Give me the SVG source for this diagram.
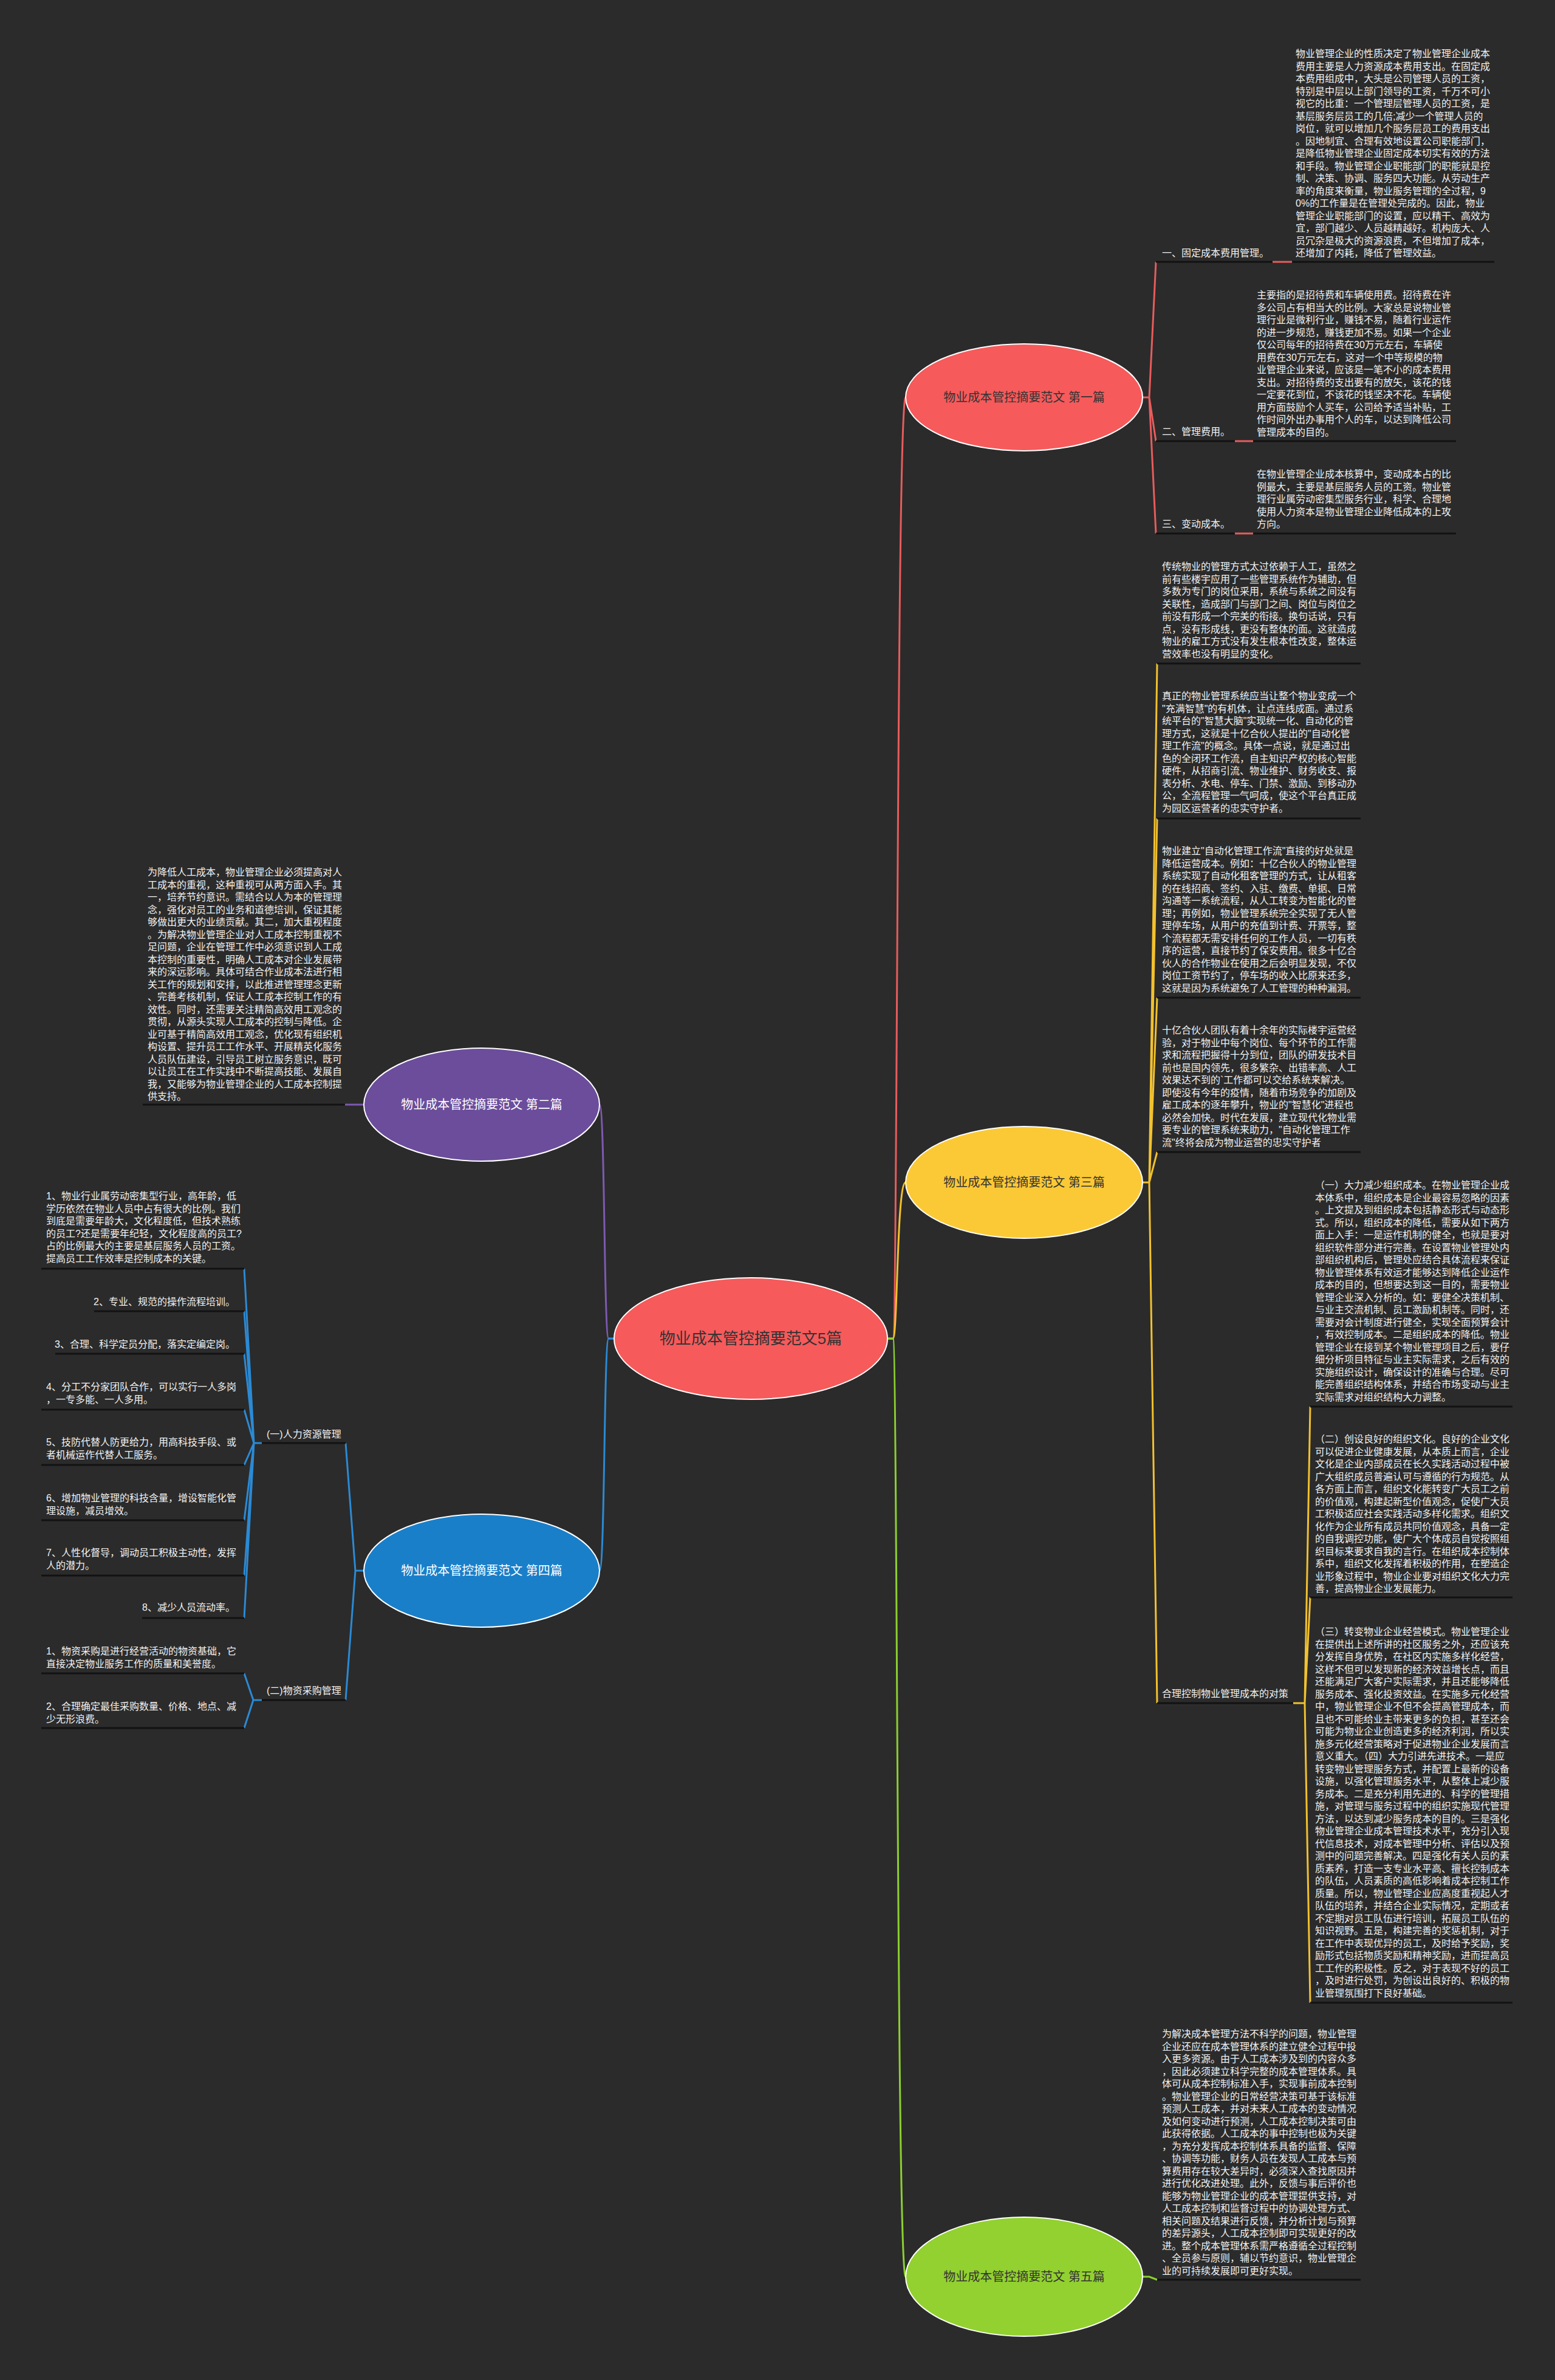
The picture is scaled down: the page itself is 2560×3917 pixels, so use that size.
<svg xmlns="http://www.w3.org/2000/svg" width="2560" height="3917" viewBox="0 0 2560 3917">
<style>
.t{font-family:"Liberation Sans","Noto Sans CJK SC",sans-serif;font-size:16px;fill:#f2f2f2}
.e{text-anchor:end}
.n{font-family:"Liberation Sans","Noto Sans CJK SC",sans-serif;font-size:20px;text-anchor:middle}
.ul{stroke:#121212;stroke-width:3;fill:none}
.cr{stroke:#e85c5c;stroke-width:3;fill:none}
.cy{stroke:#f2c12e;stroke-width:3;fill:none}
.cg{stroke:#8ccf2f;stroke-width:3;fill:none}
.cp{stroke:#7d5ab0;stroke-width:3;fill:none}
.cb{stroke:#2b8ad4;stroke-width:3;fill:none}
.el{stroke:#ffffff;stroke-width:2}
</style>
<rect width="2560" height="3917" fill="#2b2b2b"/>

<g id="connectors">
<path class="cr" d="M1461,2203 L1470,2203 C1478,2203 1476,654 1491,654"/>
<path class="cy" d="M1461,2203 L1470,2203 C1478,2203 1476,1946 1491,1946"/>
<path class="cg" d="M1461,2203 L1470,2203 C1478,2203 1476,3747 1491,3747"/>
<path class="cp" d="M1011,2203 L1002,2203 C994,2203 996,1818 987,1818"/>
<path class="cb" d="M1011,2203 L1002,2203 C994,2203 996,2585 987,2585"/>
<path class="cr" d="M1881,654 L1892,654 L1903,431 M1892,654 L1903,726 M1892,654 L1903,878"/>
<path class="cr" d="M2095,431 H2127 M2033,726 H2063 M2033,878 H2063"/>
<path class="cy" d="M1881,1946 L1892,1946 L1905,1092 M1892,1946 L1905,1347 M1892,1946 L1905,1642 M1892,1946 L1905,1896 M1892,1946 L1905,2803"/>
<path class="cy" d="M2129,2803 H2148 L2157,2315 M2148,2803 L2157,2629 M2148,2803 L2157,3296"/>
<path class="cg" d="M1881,3747 L1892,3747 L1905,3752"/>
<path class="cp" d="M600,1818 H568"/>
<path class="cb" d="M600,2585 H585 L569,2375 M585,2585 L569,2798"/>
<path class="cb" d="M431,2375 H418 L402,2088 M418,2375 L402,2158 M418,2375 L402,2228 M418,2375 L402,2320 M418,2375 L402,2411 M418,2375 L402,2502 M418,2375 L402,2593 M418,2375 L402,2663"/>
<path class="cb" d="M431,2798 H417 L402,2754 M417,2798 L402,2844"/>
</g>

<g id="center">
<ellipse class="el" cx="1236" cy="2203" rx="225" ry="100" fill="#f65a5b"/>
<text class="n" x="1236" y="2212" style="font-size:26px" fill="#333333">物业成本管控摘要范文5篇</text>
</g>

<g id="node-p1">
<ellipse class="el" cx="1686" cy="654" rx="195" ry="88" fill="#f65a5b"/>
<text class="n" x="1686" y="661" fill="#333333">物业成本管控摘要范文 第一篇</text>
</g>
<g id="node-p3">
<ellipse class="el" cx="1686" cy="1946" rx="195" ry="92" fill="#fbc935"/>
<text class="n" x="1686" y="1953" fill="#333333">物业成本管控摘要范文 第三篇</text>
</g>
<g id="node-p5">
<ellipse class="el" cx="1686" cy="3747" rx="195" ry="98" fill="#92d12f"/>
<text class="n" x="1686" y="3754" fill="#333333">物业成本管控摘要范文 第五篇</text>
</g>
<g id="node-p2">
<ellipse class="el" cx="793" cy="1818" rx="194" ry="93" fill="#6b4d9c"/>
<text class="n" x="793" y="1825" fill="#ffffff">物业成本管控摘要范文 第二篇</text>
</g>
<g id="node-p4">
<ellipse class="el" cx="793" cy="2585" rx="194" ry="93" fill="#1a7fc9"/>
<text class="n" x="793" y="2592" fill="#ffffff">物业成本管控摘要范文 第四篇</text>
</g>

<g id="p1-label1">
<line class="ul" x1="1903" y1="431" x2="2095" y2="431"/>
<text class="t" x="1913" y="422">一、固定成本费用管理。</text>
</g>
<g id="p1-text1">
<line class="ul" x1="2127" y1="431" x2="2460" y2="431"/>
<text class="t" x="2133" y="94"><tspan x="2133">物业管理企业的性质决定了物业管理企业成本</tspan><tspan x="2133" dy="20.5">费用主要是人力资源成本费用支出。在固定成</tspan><tspan x="2133" dy="20.5">本费用组成中，大头是公司管理人员的工资，</tspan><tspan x="2133" dy="20.5">特别是中层以上部门领导的工资，千万不可小</tspan><tspan x="2133" dy="20.5">视它的比重：一个管理层管理人员的工资，是</tspan><tspan x="2133" dy="20.5">基层服务层员工的几倍;减少一个管理人员的</tspan><tspan x="2133" dy="20.5">岗位，就可以增加几个服务层员工的费用支出</tspan><tspan x="2133" dy="20.5">。因地制宜、合理有效地设置公司职能部门，</tspan><tspan x="2133" dy="20.5">是降低物业管理企业固定成本切实有效的方法</tspan><tspan x="2133" dy="20.5">和手段。物业管理企业职能部门的职能就是控</tspan><tspan x="2133" dy="20.5">制、决策、协调、服务四大功能。从劳动生产</tspan><tspan x="2133" dy="20.5">率的角度来衡量，物业服务管理的全过程，9</tspan><tspan x="2133" dy="20.5">0%的工作量是在管理处完成的。因此，物业</tspan><tspan x="2133" dy="20.5">管理企业职能部门的设置，应以精干、高效为</tspan><tspan x="2133" dy="20.5">宜，部门越少、人员越精越好。机构庞大、人</tspan><tspan x="2133" dy="20.5">员冗杂是极大的资源浪费，不但增加了成本，</tspan><tspan x="2133" dy="20.5">还增加了内耗，降低了管理效益。</tspan></text>
</g>
<g id="p1-label2">
<line class="ul" x1="1903" y1="726" x2="2033" y2="726"/>
<text class="t" x="1913" y="716">二、管理费用。</text>
</g>
<g id="p1-text2">
<line class="ul" x1="2063" y1="726" x2="2397" y2="726"/>
<text class="t" x="2069" y="491"><tspan x="2069">主要指的是招待费和车辆使用费。招待费在许</tspan><tspan x="2069" dy="20.5">多公司占有相当大的比例。大家总是说物业管</tspan><tspan x="2069" dy="20.5">理行业是微利行业，赚钱不易，随着行业运作</tspan><tspan x="2069" dy="20.5">的进一步规范，赚钱更加不易。如果一个企业</tspan><tspan x="2069" dy="20.5">仅公司每年的招待费在30万元左右，车辆使</tspan><tspan x="2069" dy="20.5">用费在30万元左右，这对一个中等规模的物</tspan><tspan x="2069" dy="20.5">业管理企业来说，应该是一笔不小的成本费用</tspan><tspan x="2069" dy="20.5">支出。对招待费的支出要有的放矢，该花的钱</tspan><tspan x="2069" dy="20.5">一定要花到位，不该花的钱坚决不花。车辆使</tspan><tspan x="2069" dy="20.5">用方面鼓励个人买车，公司给予适当补贴，工</tspan><tspan x="2069" dy="20.5">作时间外出办事用个人的车，以达到降低公司</tspan><tspan x="2069" dy="20.5">管理成本的目的。</tspan></text>
</g>
<g id="p1-label3">
<line class="ul" x1="1903" y1="878" x2="2033" y2="878"/>
<text class="t" x="1913" y="868">三、变动成本。</text>
</g>
<g id="p1-text3">
<line class="ul" x1="2063" y1="878" x2="2397" y2="878"/>
<text class="t" x="2069" y="786"><tspan x="2069">在物业管理企业成本核算中，变动成本占的比</tspan><tspan x="2069" dy="20.5">例最大，主要是基层服务人员的工资。物业管</tspan><tspan x="2069" dy="20.5">理行业属劳动密集型服务行业，科学、合理地</tspan><tspan x="2069" dy="20.5">使用人力资本是物业管理企业降低成本的上攻</tspan><tspan x="2069" dy="20.5">方向。</tspan></text>
</g>

<g id="p3-textA">
<line class="ul" x1="1905" y1="1092" x2="2240" y2="1092"/>
<text class="t" x="1913" y="938"><tspan x="1913">传统物业的管理方式太过依赖于人工，虽然之</tspan><tspan x="1913" dy="20.5">前有些楼宇应用了一些管理系统作为辅助，但</tspan><tspan x="1913" dy="20.5">多数为专门的岗位采用，系统与系统之间没有</tspan><tspan x="1913" dy="20.5">关联性，造成部门与部门之间、岗位与岗位之</tspan><tspan x="1913" dy="20.5">前没有形成一个完美的衔接。换句话说，只有</tspan><tspan x="1913" dy="20.5">点，没有形成线，更没有整体的面。这就造成</tspan><tspan x="1913" dy="20.5">物业的雇工方式没有发生根本性改变，整体运</tspan><tspan x="1913" dy="20.5">营效率也没有明显的变化。</tspan></text>
</g>
<g id="p3-textB">
<line class="ul" x1="1905" y1="1347" x2="2240" y2="1347"/>
<text class="t" x="1913" y="1151"><tspan x="1913">真正的物业管理系统应当让整个物业变成一个</tspan><tspan x="1913" dy="20.5">"充满智慧"的有机体，让点连线成面。通过系</tspan><tspan x="1913" dy="20.5">统平台的"智慧大脑"实现统一化、自动化的管</tspan><tspan x="1913" dy="20.5">理方式，这就是十亿合伙人提出的"自动化管</tspan><tspan x="1913" dy="20.5">理工作流"的概念。具体一点说，就是通过出</tspan><tspan x="1913" dy="20.5">色的全闭环工作流，自主知识产权的核心智能</tspan><tspan x="1913" dy="20.5">硬件，从招商引流、物业维护、财务收支、报</tspan><tspan x="1913" dy="20.5">表分析、水电、停车、门禁、激励、到移动办</tspan><tspan x="1913" dy="20.5">公，全流程管理一气呵成，使这个平台真正成</tspan><tspan x="1913" dy="20.5">为园区运营者的忠实守护者。</tspan></text>
</g>
<g id="p3-textC">
<line class="ul" x1="1905" y1="1642" x2="2240" y2="1642"/>
<text class="t" x="1913" y="1406"><tspan x="1913">物业建立"自动化管理工作流"直接的好处就是</tspan><tspan x="1913" dy="20.5">降低运营成本。例如：十亿合伙人的物业管理</tspan><tspan x="1913" dy="20.5">系统实现了自动化租客管理的方式，让从租客</tspan><tspan x="1913" dy="20.5">的在线招商、签约、入驻、缴费、单据、日常</tspan><tspan x="1913" dy="20.5">沟通等一系统流程，从人工转变为智能化的管</tspan><tspan x="1913" dy="20.5">理；再例如，物业管理系统完全实现了无人管</tspan><tspan x="1913" dy="20.5">理停车场，从用户的充值到计费、开票等，整</tspan><tspan x="1913" dy="20.5">个流程都无需安排任何的工作人员，一切有秩</tspan><tspan x="1913" dy="20.5">序的运营，直接节约了保安费用。很多十亿合</tspan><tspan x="1913" dy="20.5">伙人的合作物业在使用之后会明显发现，不仅</tspan><tspan x="1913" dy="20.5">岗位工资节约了，停车场的收入比原来还多，</tspan><tspan x="1913" dy="20.5">这就是因为系统避免了人工管理的种种漏洞。</tspan></text>
</g>
<g id="p3-textD">
<line class="ul" x1="1905" y1="1896" x2="2240" y2="1896"/>
<text class="t" x="1913" y="1701"><tspan x="1913">十亿合伙人团队有着十余年的实际楼宇运营经</tspan><tspan x="1913" dy="20.5">验，对于物业中每个岗位、每个环节的工作需</tspan><tspan x="1913" dy="20.5">求和流程把握得十分到位，团队的研发技术目</tspan><tspan x="1913" dy="20.5">前也是国内领先，很多繁杂、出错率高、人工</tspan><tspan x="1913" dy="20.5">效果达不到的`工作都可以交给系统来解决。</tspan><tspan x="1913" dy="20.5">即使没有今年的疫情，随着市场竞争的加剧及</tspan><tspan x="1913" dy="20.5">雇工成本的逐年攀升，物业的"智慧化"进程也</tspan><tspan x="1913" dy="20.5">必然会加快。时代在发展，建立现代化物业需</tspan><tspan x="1913" dy="20.5">要专业的管理系统来助力，"自动化管理工作</tspan><tspan x="1913" dy="20.5">流"终将会成为物业运营的忠实守护者</tspan></text>
</g>
<g id="p3-label">
<line class="ul" x1="1905" y1="2803" x2="2129" y2="2803"/>
<text class="t" x="1913" y="2793">合理控制物业管理成本的对策</text>
</g>
<g id="p3-text1">
<line class="ul" x1="2157" y1="2315" x2="2490" y2="2315"/>
<text class="t" x="2165" y="1956"><tspan x="2165">（一）大力减少组织成本。在物业管理企业成</tspan><tspan x="2165" dy="20.5">本体系中，组织成本是企业最容易忽略的因素</tspan><tspan x="2165" dy="20.5">。上文提及到组织成本包括静态形式与动态形</tspan><tspan x="2165" dy="20.5">式。所以，组织成本的降低，需要从如下两方</tspan><tspan x="2165" dy="20.5">面上入手：一是运作机制的健全，也就是要对</tspan><tspan x="2165" dy="20.5">组织软件部分进行完善。在设置物业管理处内</tspan><tspan x="2165" dy="20.5">部组织机构后，管理处应结合具体流程来保证</tspan><tspan x="2165" dy="20.5">物业管理体系有效运才能够达到降低企业运作</tspan><tspan x="2165" dy="20.5">成本的目的，但想要达到这一目的，需要物业</tspan><tspan x="2165" dy="20.5">管理企业深入分析的。如：要健全决策机制、</tspan><tspan x="2165" dy="20.5">与业主交流机制、员工激励机制等。同时，还</tspan><tspan x="2165" dy="20.5">需要对会计制度进行健全，实现全面预算会计</tspan><tspan x="2165" dy="20.5">，有效控制成本。二是组织成本的降低。物业</tspan><tspan x="2165" dy="20.5">管理企业在接到某个物业管理项目之后，要仔</tspan><tspan x="2165" dy="20.5">细分析项目特征与业主实际需求，之后有效的</tspan><tspan x="2165" dy="20.5">实施组织设计，确保设计的准确与合理。尽可</tspan><tspan x="2165" dy="20.5">能完善组织结构体系，并结合市场变动与业主</tspan><tspan x="2165" dy="20.5">实际需求对组织结构大力调整。</tspan></text>
</g>
<g id="p3-text2">
<line class="ul" x1="2157" y1="2629" x2="2490" y2="2629"/>
<text class="t" x="2165" y="2374"><tspan x="2165">（二）创设良好的组织文化。良好的企业文化</tspan><tspan x="2165" dy="20.5">可以促进企业健康发展，从本质上而言，企业</tspan><tspan x="2165" dy="20.5">文化是企业内部成员在长久实践活动过程中被</tspan><tspan x="2165" dy="20.5">广大组织成员普遍认可与遵循的行为规范。从</tspan><tspan x="2165" dy="20.5">各方面上而言，组织文化能转变广大员工之前</tspan><tspan x="2165" dy="20.5">的价值观，构建起新型价值观念，促使广大员</tspan><tspan x="2165" dy="20.5">工积极适应社会实践活动多样化需求。组织文</tspan><tspan x="2165" dy="20.5">化作为企业所有成员共同价值观念，具备一定</tspan><tspan x="2165" dy="20.5">的自我调控功能，使广大个体成员自觉按照组</tspan><tspan x="2165" dy="20.5">织目标来要求自我的言行。在组织成本控制体</tspan><tspan x="2165" dy="20.5">系中，组织文化发挥着积极的作用，在塑造企</tspan><tspan x="2165" dy="20.5">业形象过程中，物业企业要对组织文化大力完</tspan><tspan x="2165" dy="20.5">善，提高物业企业发展能力。</tspan></text>
</g>
<g id="p3-text3">
<line class="ul" x1="2157" y1="3296" x2="2490" y2="3296"/>
<text class="t" x="2165" y="2691"><tspan x="2165">（三）转变物业企业经营模式。物业管理企业</tspan><tspan x="2165" dy="20.5">在提供出上述所讲的社区服务之外，还应该充</tspan><tspan x="2165" dy="20.5">分发挥自身优势，在社区内实施多样化经营，</tspan><tspan x="2165" dy="20.5">这样不但可以发现新的经济效益增长点，而且</tspan><tspan x="2165" dy="20.5">还能满足广大客户实际需求，并且还能够降低</tspan><tspan x="2165" dy="20.5">服务成本、强化投资效益。在实施多元化经营</tspan><tspan x="2165" dy="20.5">中，物业管理企业不但不会提高管理成本，而</tspan><tspan x="2165" dy="20.5">且也不可能给业主带来更多的负担，甚至还会</tspan><tspan x="2165" dy="20.5">可能为物业企业创造更多的经济利润，所以实</tspan><tspan x="2165" dy="20.5">施多元化经营策略对于促进物业企业发展而言</tspan><tspan x="2165" dy="20.5">意义重大。（四）大力引进先进技术。一是应</tspan><tspan x="2165" dy="20.5">转变物业管理服务方式，并配置上最新的设备</tspan><tspan x="2165" dy="20.5">设施，以强化管理服务水平，从整体上减少服</tspan><tspan x="2165" dy="20.5">务成本。二是充分利用先进的、科学的管理措</tspan><tspan x="2165" dy="20.5">施，对管理与服务过程中的组织实施现代管理</tspan><tspan x="2165" dy="20.5">方法，以达到减少服务成本的目的。三是强化</tspan><tspan x="2165" dy="20.5">物业管理企业成本管理技术水平，充分引入现</tspan><tspan x="2165" dy="20.5">代信息技术，对成本管理中分析、评估以及预</tspan><tspan x="2165" dy="20.5">测中的问题完善解决。四是强化有关人员的素</tspan><tspan x="2165" dy="20.5">质素养，打造一支专业水平高、擅长控制成本</tspan><tspan x="2165" dy="20.5">的队伍，人员素质的高低影响着成本控制工作</tspan><tspan x="2165" dy="20.5">质量。所以，物业管理企业应高度重视起人才</tspan><tspan x="2165" dy="20.5">队伍的培养，并结合企业实际情况，定期或者</tspan><tspan x="2165" dy="20.5">不定期对员工队伍进行培训，拓展员工队伍的</tspan><tspan x="2165" dy="20.5">知识视野。五是，构建完善的奖惩机制，对于</tspan><tspan x="2165" dy="20.5">在工作中表现优异的员工，及时给予奖励，奖</tspan><tspan x="2165" dy="20.5">励形式包括物质奖励和精神奖励，进而提高员</tspan><tspan x="2165" dy="20.5">工工作的积极性。反之，对于表现不好的员工</tspan><tspan x="2165" dy="20.5">，及时进行处罚，为创设出良好的、积极的物</tspan><tspan x="2165" dy="20.5">业管理氛围打下良好基础。</tspan></text>
</g>

<g id="p5-text">
<line class="ul" x1="1905" y1="3752" x2="2240" y2="3752"/>
<text class="t" x="1913" y="3353"><tspan x="1913">为解决成本管理方法不科学的问题，物业管理</tspan><tspan x="1913" dy="20.5">企业还应在成本管理体系的建立健全过程中投</tspan><tspan x="1913" dy="20.5">入更多资源。由于人工成本涉及到的内容众多</tspan><tspan x="1913" dy="20.5">，因此必须建立科学完整的成本管理体系。具</tspan><tspan x="1913" dy="20.5">体可从成本控制标准入手，实现事前成本控制</tspan><tspan x="1913" dy="20.5">。物业管理企业的日常经营决策可基于该标准</tspan><tspan x="1913" dy="20.5">预测人工成本，并对未来人工成本的变动情况</tspan><tspan x="1913" dy="20.5">及如何变动进行预测，人工成本控制决策可由</tspan><tspan x="1913" dy="20.5">此获得依据。人工成本的事中控制也极为关键</tspan><tspan x="1913" dy="20.5">，为充分发挥成本控制体系具备的监督、保障</tspan><tspan x="1913" dy="20.5">、协调等功能，财务人员在发现人工成本与预</tspan><tspan x="1913" dy="20.5">算费用存在较大差异时，必须深入查找原因并</tspan><tspan x="1913" dy="20.5">进行优化改进处理。此外，反馈与事后评价也</tspan><tspan x="1913" dy="20.5">能够为物业管理企业的成本管理提供支持，对</tspan><tspan x="1913" dy="20.5">人工成本控制和监督过程中的协调处理方式、</tspan><tspan x="1913" dy="20.5">相关问题及结果进行反馈，并分析计划与预算</tspan><tspan x="1913" dy="20.5">的差异源头，人工成本控制即可实现更好的改</tspan><tspan x="1913" dy="20.5">进。整个成本管理体系需严格遵循全过程控制</tspan><tspan x="1913" dy="20.5">、全员参与原则，辅以节约意识，物业管理企</tspan><tspan x="1913" dy="20.5">业的可持续发展即可更好实现。</tspan></text>
</g>

<g id="p2-text">
<line class="ul" x1="235" y1="1818" x2="568" y2="1818"/>
<text class="t" x="243" y="1441"><tspan x="243">为降低人工成本，物业管理企业必须提高对人</tspan><tspan x="243" dy="20.5">工成本的重视，这种重视可从两方面入手。其</tspan><tspan x="243" dy="20.5">一，培养节约意识。需结合以人为本的管理理</tspan><tspan x="243" dy="20.5">念，强化对员工的业务和道德培训，保证其能</tspan><tspan x="243" dy="20.5">够做出更大的业绩贡献。其二，加大重视程度</tspan><tspan x="243" dy="20.5">。为解决物业管理企业对人工成本控制重视不</tspan><tspan x="243" dy="20.5">足问题，企业在管理工作中必须意识到人工成</tspan><tspan x="243" dy="20.5">本控制的重要性，明确人工成本对企业发展带</tspan><tspan x="243" dy="20.5">来的深远影响。具体可结合作业成本法进行相</tspan><tspan x="243" dy="20.5">关工作的规划和安排，以此推进管理理念更新</tspan><tspan x="243" dy="20.5">、完善考核机制，保证人工成本控制工作的有</tspan><tspan x="243" dy="20.5">效性。同时，还需要关注精简高效用工观念的</tspan><tspan x="243" dy="20.5">贯彻，从源头实现人工成本的控制与降低。企</tspan><tspan x="243" dy="20.5">业可基于精简高效用工观念，优化现有组织机</tspan><tspan x="243" dy="20.5">构设置、提升员工工作水平、开展精英化服务</tspan><tspan x="243" dy="20.5">人员队伍建设，引导员工树立服务意识，既可</tspan><tspan x="243" dy="20.5">以让员工在工作实践中不断提高技能、发展自</tspan><tspan x="243" dy="20.5">我，又能够为物业管理企业的人工成本控制提</tspan><tspan x="243" dy="20.5">供支持。</tspan></text>
</g>

<g id="p4-label1">
<line class="ul" x1="431" y1="2375" x2="569" y2="2375"/>
<text class="t" x="439" y="2366">(一)人力资源管理</text>
</g>
<g id="p4-label2">
<line class="ul" x1="431" y1="2798" x2="569" y2="2798"/>
<text class="t" x="439" y="2788">(二)物资采购管理</text>
</g>
<g id="p4-h1">
<line class="ul" x1="68" y1="2088" x2="402" y2="2088"/>
<text class="t" x="76" y="1974"><tspan x="76">1、物业行业属劳动密集型行业，高年龄，低</tspan><tspan x="76" dy="20.5">学历依然在物业人员中占有很大的比例。我们</tspan><tspan x="76" dy="20.5">到底是需要年龄大，文化程度低，但技术熟练</tspan><tspan x="76" dy="20.5">的员工?还是需要年纪轻，文化程度高的员工?</tspan><tspan x="76" dy="20.5">占的比例最大的主要是基层服务人员的工资。</tspan><tspan x="76" dy="20.5">提高员工工作效率是控制成本的关键。</tspan></text>
</g>
<g id="p4-h2">
<line class="ul" x1="155" y1="2158" x2="402" y2="2158"/>
<text class="t e" x="387" y="2148">2、专业、规范的操作流程培训。</text>
</g>
<g id="p4-h3">
<line class="ul" x1="91" y1="2228" x2="402" y2="2228"/>
<text class="t e" x="387" y="2218">3、合理、科学定员分配，落实定编定岗。</text>
</g>
<g id="p4-h4">
<line class="ul" x1="68" y1="2320" x2="402" y2="2320"/>
<text class="t" x="76" y="2288"><tspan x="76">4、分工不分家团队合作，可以实行一人多岗</tspan><tspan x="76" dy="20.5">，一专多能、一人多用。</tspan></text>
</g>
<g id="p4-h5">
<line class="ul" x1="68" y1="2411" x2="402" y2="2411"/>
<text class="t" x="76" y="2379"><tspan x="76">5、技防代替人防更给力，用高科技手段、或</tspan><tspan x="76" dy="20.5">者机械运作代替人工服务。</tspan></text>
</g>
<g id="p4-h6">
<line class="ul" x1="68" y1="2502" x2="402" y2="2502"/>
<text class="t" x="76" y="2471"><tspan x="76">6、增加物业管理的科技含量，增设智能化管</tspan><tspan x="76" dy="20.5">理设施，减员增效。</tspan></text>
</g>
<g id="p4-h7">
<line class="ul" x1="68" y1="2593" x2="402" y2="2593"/>
<text class="t" x="76" y="2561"><tspan x="76">7、人性化督导，调动员工积极主动性，发挥</tspan><tspan x="76" dy="20.5">人的潜力。</tspan></text>
</g>
<g id="p4-h8">
<line class="ul" x1="234" y1="2663" x2="402" y2="2663"/>
<text class="t e" x="387" y="2651">8、减少人员流动率。</text>
</g>
<g id="p4-m1">
<line class="ul" x1="68" y1="2754" x2="402" y2="2754"/>
<text class="t" x="76" y="2723"><tspan x="76">1、物资采购是进行经营活动的物资基础，它</tspan><tspan x="76" dy="20.5">直接决定物业服务工作的质量和美誉度。</tspan></text>
</g>
<g id="p4-m2">
<line class="ul" x1="68" y1="2844" x2="402" y2="2844"/>
<text class="t" x="76" y="2814"><tspan x="76">2、合理确定最佳采购数量、价格、地点、减</tspan><tspan x="76" dy="20.5">少无形浪费。</tspan></text>
</g>
</svg>
